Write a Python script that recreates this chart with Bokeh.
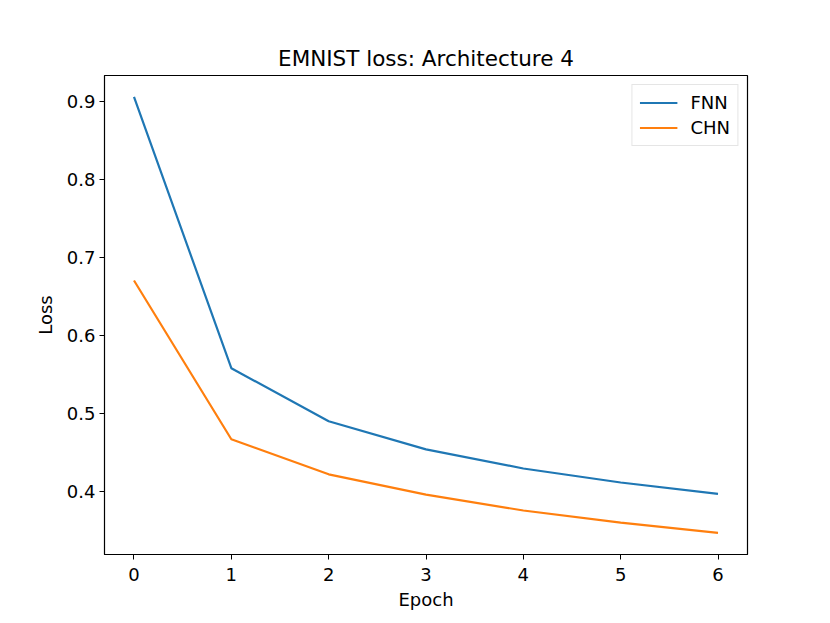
from bokeh.plotting import figure
from bokeh.models import Range1d, FixedTicker, Legend, LegendItem
from bokeh.embed import file_html
from bokeh.resources import INLINE

epochs = [0, 1, 2, 3, 4, 5, 6]
fnn_loss = [0.906, 0.558, 0.490, 0.454, 0.4295, 0.4115, 0.397]
chn_loss = [0.6705, 0.467, 0.422, 0.396, 0.3756, 0.360, 0.347]
x_ticks = [0, 1, 2, 3, 4, 5, 6]
y_ticks = [0.4, 0.5, 0.6, 0.7, 0.8, 0.9]

FONT = "DejaVu Sans"

p = figure(width=820, height=613, output_backend="svg", toolbar_location=None,
           x_range=Range1d(-0.303, 6.303), y_range=Range1d(0.3192, 0.9333),
           min_border_left=104, min_border_right=73, min_border_top=75, min_border_bottom=59,
           title="EMNIST loss: Architecture 4")

p.title.align = "center"
p.title.text_font = FONT
p.title.text_font_size = "21.5px"
p.title.text_font_style = "normal"
p.title.text_color = "black"

p.xgrid.visible = False
p.ygrid.visible = False
p.outline_line_color = "black"
p.outline_line_width = 1.2

for ax in (p.xaxis[0], p.yaxis[0]):
    ax.major_tick_in = 0
    ax.major_tick_out = 5
    ax.minor_tick_line_color = None
    ax.major_label_text_font = FONT
    ax.major_label_text_font_size = "18px"
    ax.major_label_text_color = "black"
    ax.axis_label_text_font = FONT
    ax.axis_label_text_font_size = "18px"
    ax.axis_label_text_font_style = "normal"
    ax.axis_label_text_color = "black"
    ax.axis_line_color = "black"
    ax.major_tick_line_color = "black"

p.xaxis.ticker = FixedTicker(ticks=x_ticks)
p.yaxis.ticker = FixedTicker(ticks=y_ticks)
p.xaxis.axis_label = "Epoch"
p.yaxis.axis_label = "Loss"
p.yaxis.major_label_orientation = "horizontal"
p.xaxis.major_label_standoff = 8
p.yaxis.major_label_standoff = 4
p.xaxis.axis_label_standoff = 5
p.yaxis.axis_label_standoff = 8

r1 = p.line(epochs, fnn_loss, line_color="#1f77b4", line_width=2.2)
r2 = p.line(epochs, chn_loss, line_color="#ff7f0e", line_width=2.2)

legend = Legend(items=[LegendItem(label="FNN", renderers=[r1]),
                       LegendItem(label="CHN", renderers=[r2])],
                location="top_right")
legend.margin = 9
legend.padding = 7
legend.spacing = 4
legend.glyph_width = 38
legend.glyph_height = 21
legend.label_height = 21
legend.label_text_font = FONT
legend.label_text_font_size = "18px"
legend.label_text_color = "black"
legend.border_line_color = "#cccccc"
legend.border_line_width = 1
legend.label_standoff = 13
p.add_layout(legend)

open("out.html", "w").write(file_html(p, INLINE))
